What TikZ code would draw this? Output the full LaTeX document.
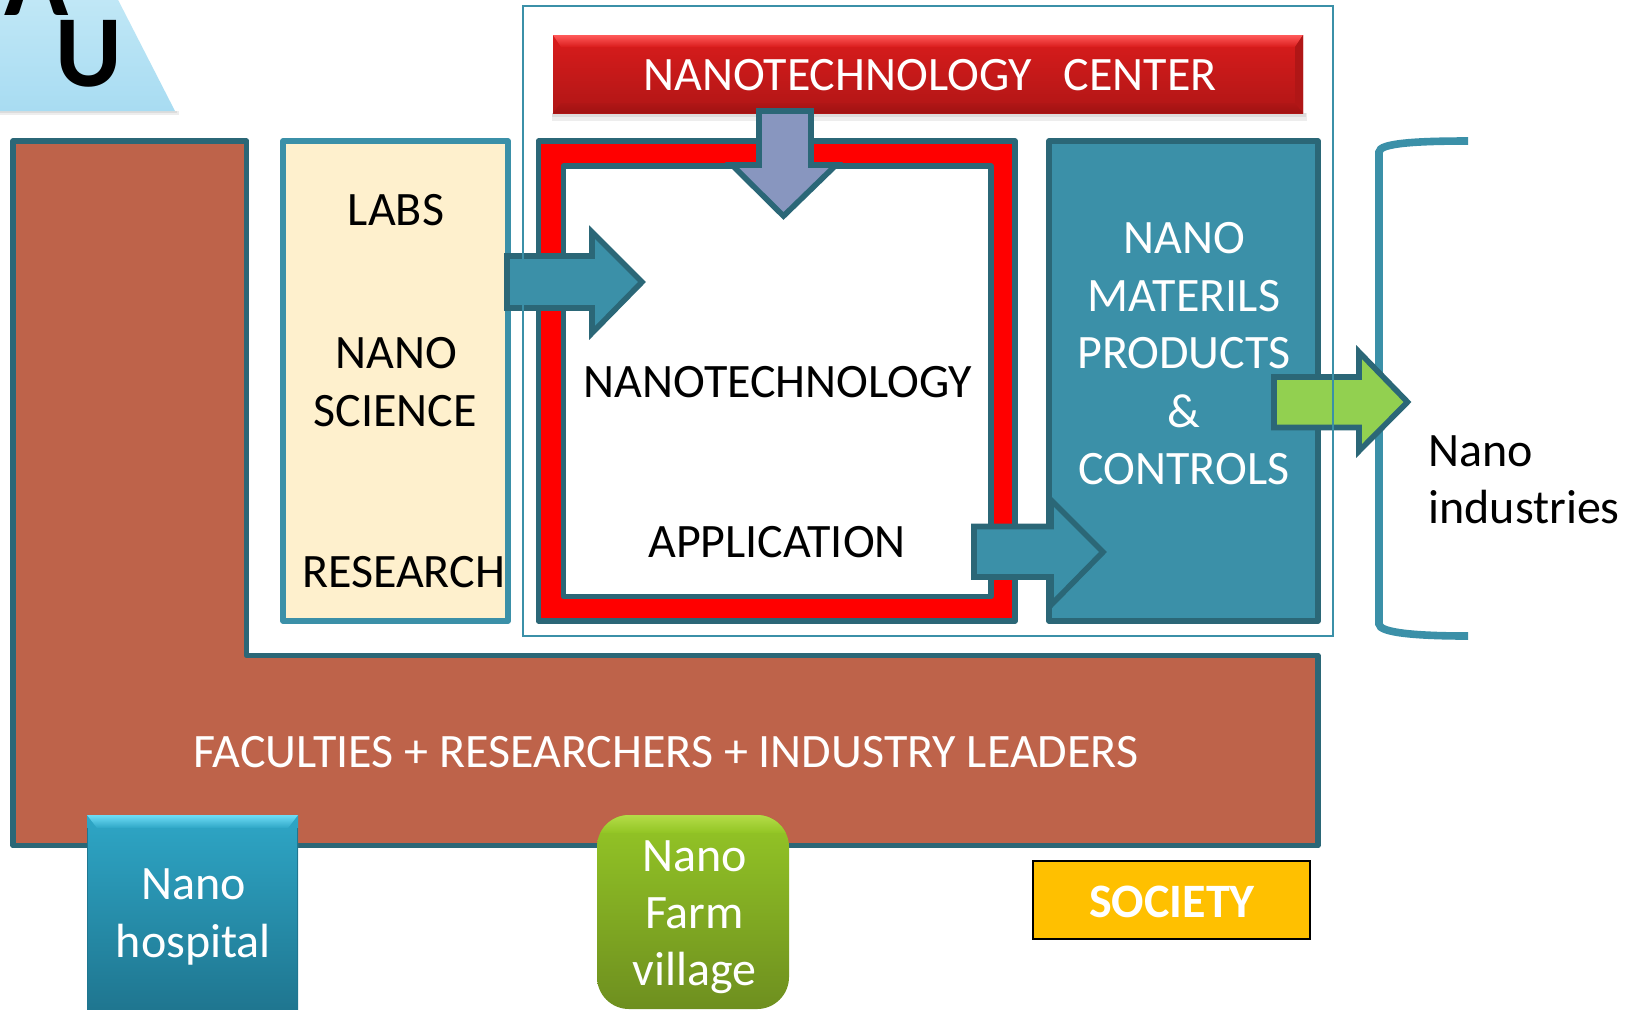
\documentclass[tikz,border=0pt]{standalone}
\usepackage{fontspec}
\setmainfont{Carlito}
\definecolor{darkteal}{HTML}{2B6777}
\definecolor{teal}{HTML}{3B90A8}
\definecolor{brick}{HTML}{BE634A}
\definecolor{cream}{HTML}{FEF0CD}
\definecolor{lilac}{HTML}{8896BF}
\definecolor{leaf}{HTML}{92D050}
\definecolor{amber}{HTML}{FFC000}
\definecolor{skytop}{HTML}{C2E8F6}
\definecolor{skybot}{HTML}{A8DCF2}
\definecolor{redhi}{HTML}{FF5A5A}
\definecolor{redtop}{HTML}{DA1C1C}
\definecolor{redbot}{HTML}{B01616}
\definecolor{reddk}{HTML}{A01212}
\definecolor{hostop}{HTML}{2EA6C6}
\definecolor{hosbot}{HTML}{1F7690}
\definecolor{hoshi}{HTML}{6FDDF6}
\definecolor{farmtop}{HTML}{94C626}
\definecolor{farmbot}{HTML}{6E8F1F}
\definecolor{farmhi}{HTML}{B4DC48}
\tikzset{
  px/.style={x=0.5pt,y=-0.5pt},
  tealline/.style={draw=darkteal,line width=2.8pt,line join=round},
  blockarrow/.style={tealline,line join=miter,miter limit=8},
  lbl/.style={font=\fontsize{24}{28}\selectfont,inner sep=0pt,text=black},
  wlbl/.style={lbl,text=white},
  softshadow/.style={fill=black,opacity=0.07,draw=none}
}
\begin{document}
\begin{tikzpicture}[px]
\useasboundingbox (0,0) rectangle (1637,1009);
\fill[white] (0,0) rectangle (1637,1009);
% logo trapezium
\fill[softshadow] (0,111) rectangle (179,115);
\fill[softshadow] (0,111) rectangle (177,113);
\shade[top color=skytop,bottom color=skybot] (-40,111) -- (175,111) -- (113,-10) -- (-40,-10) -- cycle;
\node[font=\fontsize{53}{60}\selectfont\bfseries,inner sep=0pt,anchor=base] (logoA) at (37,15) {A};
\node[font=\fontsize{51}{60}\selectfont\bfseries,inner sep=0pt,anchor=base] (logoU) at (89,86) {U};
% L-shaped block
\draw[tealline,fill=brick] (13,141) -- (246.5,141) -- (246.5,655.5) -- (1318,655.5) -- (1318,845.5) -- (13,845.5) -- cycle;
\node[wlbl] (fac) at (666,752) {FACULTIES + RESEARCHERS + INDUSTRY LEADERS};
% labs
\draw[draw=teal,line width=2.6pt,line join=round,fill=cream] (283,141) rectangle (508,621);
\node[lbl] (labs) at (396,210) {LABS};
\node[lbl] (nano1) at (396,353) {NANO};
\node[lbl] (sci) at (395,411) {SCIENCE};
\node[lbl] (res) at (403.5,572) {RESEARCH};
% red frame
\draw[tealline,fill=red] (538.5,141) rectangle (1015,621);
\draw[tealline,fill=white] (563.5,166) rectangle (991,596.5);
% banner
\fill[softshadow] (552,113) rectangle (1307,121);
\fill[softshadow] (552,113) rectangle (1306,117);
\shade[top color=redtop,bottom color=redbot] (553,35) rectangle (1303,113);
\shade[top color=redhi,bottom color=redtop] (553,35) -- (1303,35) -- (1295,47) -- (561,47) -- cycle;
\shade[top color=redbot,bottom color=reddk] (553,113) -- (1303,113) -- (1295,103) -- (561,103) -- cycle;
\fill[redbot] (1303,35) -- (1295,47) -- (1295,103) -- (1303,113) -- cycle;
\node[wlbl] (center) at (930,75) {NANOTECHNOLOGY\hspace{0.66em}CENTER};
% down arrow
\draw[blockarrow,fill=lilac] (759,111) -- (811,111) -- (811,165) -- (836,165) -- (783.5,216) -- (732,165) -- (759,165) -- cycle;
% labs arrow
\draw[blockarrow,fill=teal] (507,256) -- (592,256) -- (592,232) -- (642,282) -- (592,333) -- (592,308) -- (507,308) -- cycle;
\node[lbl] (tech) at (778,382) {NANOTECHNOLOGY};
\node[lbl] (app) at (777,542) {APPLICATION};
% products
\draw[tealline,fill=teal] (1049,141) rectangle (1318,621);
\node[wlbl] (p1) at (1184,238) {NANO};
\node[wlbl] (p2) at (1184,296) {MATERILS};
\node[wlbl] (p3) at (1184,353) {PRODUCTS};
\node[wlbl] (p4) at (1184,411) {\&};
\node[wlbl] (p5) at (1184,469) {CONTROLS};
% application arrow
\draw[blockarrow,fill=teal] (974,526.5) -- (1051,526.5) -- (1051,500) -- (1103,552) -- (1051,605) -- (1051,577) -- (974,577) -- cycle;
% bracket
\draw[draw=teal,line width=3.8pt] (1468,141) .. controls (1418,141) and (1379,143) .. (1379,152) -- (1379,624) .. controls (1379,633) and (1418,636) .. (1468,636);
% green arrow
\draw[blockarrow,fill=leaf] (1274,377) -- (1359,377) -- (1359,352) -- (1407.5,402) -- (1359,451) -- (1359,427.5) -- (1274,427.5) -- cycle;
% thin frame
\draw[draw=teal,line width=1pt] (523,6) rectangle (1333,636);
\node[lbl,anchor=base west] (ind1) at (1428,466) {Nano};
\node[lbl,anchor=base west] (ind2) at (1428,523) {industries};
% hospital
\shade[top color=hostop,bottom color=hosbot] (87,815) rectangle (298,1009);
\shade[top color=hoshi,bottom color=hostop] (87,815) -- (298,815) -- (288,828) -- (97,828) -- cycle;
\draw[hosbot,line width=0.8pt] (87.5,828) -- (87.5,1008) -- (297.5,1008) -- (297.5,828);
\node[wlbl,anchor=base] (h1) at (193.5,899) {Nano};
\node[wlbl,anchor=base] (h2) at (193.5,957) {hospital};
% farm
\begin{scope}
\clip[rounded corners=16pt] (597,815) rectangle (789,1009);
\shade[top color=farmtop,bottom color=farmbot] (597,815) rectangle (789,1009);
\shade[top color=farmhi,bottom color=farmtop] (597,815) rectangle (789,832);
\end{scope}
\node[wlbl,anchor=base] (f1) at (694.5,871) {Nano};
\node[wlbl,anchor=base] (f2) at (694.5,928) {Farm};
\node[wlbl,anchor=base] (f3) at (694.5,985) {village};
% society
\draw[draw=black,line width=1.3pt,fill=amber] (1033,861) rectangle (1310,939);
\node[wlbl,font=\fontsize{24}{28}\selectfont\bfseries] (soc) at (1172,902) {SOCIETY};
\end{tikzpicture}
\end{document}
